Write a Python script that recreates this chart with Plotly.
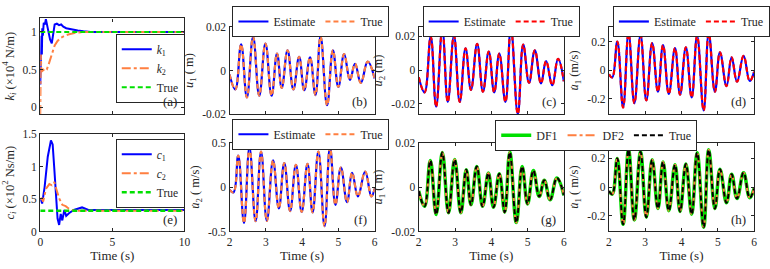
import plotly.graph_objects as go

W, H = 770, 269

# ---------------- data ----------------
time_k1 = [0, 0.02, 0.05, 0.08, 0.11, 0.14, 0.18, 0.24, 0.32, 0.39, 0.48, 0.58, 0.68, 0.8, 0.9, 1.0, 1.15, 1.3, 1.45, 1.6, 1.8, 2.0, 2.3, 2.6, 3.0, 3.5, 10]
k1 = [0.3, 0.75, 0.55, 0.95, 0.7, 1.05, 0.95, 1.12, 1.1, 1.17, 1.08, 0.98, 0.9, 0.85, 0.98, 1.1, 1.11, 1.09, 1.1, 1.07, 1.05, 1.04, 1.03, 1.02, 1.01, 1.0, 1.0]
time_k2 = [0, 0.02, 0.04, 0.07, 0.1, 0.2, 0.3, 0.45, 0.55, 0.7, 0.85, 1.0, 1.2, 1.4, 1.7, 2.0, 2.5, 3.0, 4.0, 10]
k2 = [-0.09, 0.3, 0.7, 0.5, 0.47, 0.5, 0.48, 0.5, 0.55, 0.64, 0.74, 0.82, 0.88, 0.92, 0.95, 0.97, 0.99, 1.0, 1.0, 1.0]
k_true_t = [0, 10]
k_true = [1.0, 1.0]

time_c1 = [0, 0.13, 0.3, 0.52, 0.74, 0.86, 0.97, 1.08, 1.2, 1.31, 1.42, 1.53, 1.67, 1.8, 1.99, 2.33, 2.9, 3.34, 10]
c1 = [0.51, 0.43, 0.68, 1.15, 1.4, 1.34, 0.98, 0.59, 0.2, 0.1, 0.27, 0.17, 0.33, 0.24, 0.28, 0.33, 0.37, 0.33, 0.33]
time_c2 = [0, 0.1, 0.2, 0.4, 0.63, 0.81, 0.97, 1.13, 1.31, 1.53, 1.76, 1.99, 2.33, 3.0, 10]
c2 = [0.5, 0.51, 0.46, 0.66, 0.73, 0.71, 0.76, 0.63, 0.51, 0.41, 0.39, 0.35, 0.32, 0.32, 0.32]
c_true_t = [0, 10]
c_true = [0.32, 0.32]

time_u1 = [2.0, 2.16, 2.32, 2.48, 2.65, 2.82, 2.99, 3.16, 3.31, 3.44, 3.60, 3.76, 3.92, 4.06, 4.22, 4.37, 4.51, 4.69, 4.85, 5.0, 5.16, 5.32, 5.46, 5.62, 5.81, 6.0]
u1 = [-0.0018, -0.0087, 0.012, -0.0124, 0.0155, -0.0116, 0.0124, -0.0116, 0.0078, -0.008, 0.0093, -0.0087, 0.0063, -0.0091, 0.006, -0.0113, 0.0157, -0.016, 0.0093, -0.0076, 0.0075, -0.0043, 0.0031, -0.0057, 0.0041, -0.0037]

time_u2 = [2.0, 2.16, 2.33, 2.48, 2.65, 2.80, 2.97, 3.13, 3.29, 3.44, 3.61, 3.77, 3.93, 4.08, 4.22, 4.39, 4.54, 4.73, 4.88, 5.04, 5.20, 5.37, 5.51, 5.68, 5.84, 6.0]
u2 = [-0.0042, -0.0132, 0.0198, -0.0217, 0.0242, -0.0189, 0.0204, -0.0189, 0.0128, -0.0117, 0.0155, -0.0128, 0.011, -0.0132, 0.0098, -0.0189, 0.0249, -0.026, 0.0151, -0.0075, 0.0117, -0.0079, 0.0053, -0.009, 0.0066, -0.0066]

time_u1d = [2.0, 2.09, 2.23, 2.39, 2.54, 2.70, 2.87, 3.03, 3.19, 3.35, 3.49, 3.65, 3.82, 3.96, 4.12, 4.28, 4.43, 4.61, 4.75, 4.92, 5.06, 5.24, 5.38, 5.53, 5.71, 5.88, 6.0]
u1d = [-0.028, -0.05, 0.2, -0.26, 0.26, -0.23, 0.245, -0.21, 0.19, -0.15, 0.175, -0.165, 0.155, -0.17, 0.16, -0.19, 0.24, -0.28, 0.26, -0.15, 0.125, -0.11, 0.09, -0.08, 0.10, -0.075, -0.01]

time_u2d = [2.0, 2.11, 2.24, 2.40, 2.55, 2.72, 2.87, 3.03, 3.20, 3.36, 3.51, 3.67, 3.83, 3.99, 4.15, 4.29, 4.45, 4.62, 4.77, 4.92, 5.07, 5.24, 5.38, 5.54, 5.74, 5.91, 6.0]
u2d = [-0.03, -0.06, 0.355, -0.405, 0.445, -0.385, 0.40, -0.38, 0.30, -0.24, 0.27, -0.27, 0.25, -0.28, 0.26, -0.285, 0.40, -0.44, 0.45, -0.20, 0.22, -0.17, 0.16, -0.105, 0.175, -0.105, -0.02]

ticks_k = [0, 0.5, 1]
ticks_k_text = ["0", "0.5", "1"]
ticks_c = [0, 0.5, 1, 1.5]
ticks_c_text = ["0", "0.5", "1", "1.5"]
ticks_u = [-0.02, 0, 0.02]
ticks_u_text = ["-0.02", "0", "0.02"]
ticks_ud1 = [-0.2, 0, 0.2]
ticks_ud1_text = ["-0.2", "0", "0.2"]
ticks_ud2 = [-0.5, 0, 0.5]
ticks_ud2_text = ["-0.5", "0", "0.5"]
ticks_t10 = [0, 5, 10]
ticks_t10_text = ["0", "5", "10"]
ticks_t6 = [2, 3, 4, 5, 6]
ticks_t6_text = ["2", "3", "4", "5", "6"]

# ---------------- style ----------------
FONT = "Liberation Serif, Times New Roman, serif"
BLUE = "#0000FF"
ORANGE = "#FF7F40"
RED = "#FF0000"
GREEN = "#00E000"
BLACK = "#000000"
AX = "#262626"
TXT = "#262626"
DASH = "5px,3px"

def px_x(a, b):
    return [a / W, b / W]

def px_y(top, bottom):
    return [1 - bottom / H, 1 - top / H]

fig = go.Figure()

def line(x, y, ax, color, width, dash="solid", name=None, legend=None, show=False, shape="linear"):
    fig.add_trace(go.Scatter(
        x=x, y=y, mode="lines", xaxis="x" + ax, yaxis="y" + ax,
        line=dict(color=color, width=width, dash=dash, shape=shape,
                  smoothing=1.2 if shape == "spline" else None),
        name=name, legend=legend, showlegend=show))

# (a)
line(time_k1, k1, "", BLUE, 2, name="<i>k</i><sub>1</sub>", legend="legend", show=True)
line(time_k2, k2, "", ORANGE, 2, dash="dashdot", name="<i>k</i><sub>2</sub>", legend="legend", show=True)
line(k_true_t, k_true, "", GREEN, 2, dash=DASH, name="True", legend="legend", show=True)
# (b)
line(time_u1, u1, "2", BLUE, 2.2, name="Estimate", legend="legend2", show=True, shape="spline")
line(time_u1, u1, "2", ORANGE, 2.2, dash=DASH, name="True", legend="legend2", show=True, shape="spline")
# (c)
line(time_u2, u2, "3", BLUE, 2.2, name="Estimate", legend="legend3", show=True, shape="spline")
line(time_u2, u2, "3", RED, 2.2, dash=DASH, name="True", legend="legend3", show=True, shape="spline")
# (d)
line(time_u1d, u1d, "4", BLUE, 2.2, name="Estimate", legend="legend4", show=True, shape="spline")
line(time_u1d, u1d, "4", RED, 2.2, dash=DASH, name="True", legend="legend4", show=True, shape="spline")
# (e)
line(time_c1, c1, "5", BLUE, 2, name="<i>c</i><sub>1</sub>", legend="legend5", show=True)
line(time_c2, c2, "5", ORANGE, 2, dash="dashdot", name="<i>c</i><sub>2</sub>", legend="legend5", show=True)
line(c_true_t, c_true, "5", GREEN, 2.5, dash=DASH, name="True", legend="legend5", show=True)
# (f)
line(time_u2d, u2d, "6", BLUE, 2.2, name="Estimate", legend="legend6", show=True, shape="spline")
line(time_u2d, u2d, "6", ORANGE, 2.2, dash=DASH, name="True", legend="legend6", show=True, shape="spline")
# (g)
line(time_u1, u1, "7", GREEN, 3.5, name="DF1", legend="legend7", show=True, shape="spline")
line(time_u1, u1, "7", ORANGE, 2, dash="dashdot", name="DF2", legend="legend7", show=True, shape="spline")
line(time_u1, u1, "7", BLACK, 2, dash=DASH, name="True", legend="legend7", show=True, shape="spline")
# (h)
line(time_u1d, u1d, "8", GREEN, 3.5, shape="spline")
line(time_u1d, u1d, "8", ORANGE, 2, dash="dashdot", shape="spline")
line(time_u1d, u1d, "8", BLACK, 2, dash=DASH, shape="spline")

tickfont = dict(family=FONT, size=11.5, color=TXT)
titlefont = dict(family=FONT, size=12.5, color=TXT)

def xaxis(dom, rng, tv, tt, labels, anchor, title=None):
    d = dict(domain=dom, range=rng, tickvals=tv, ticktext=tt, showticklabels=labels,
             ticks="inside", ticklen=3, tickcolor=AX, mirror="allticks", showline=True,
             linecolor=AX, linewidth=1.2, showgrid=False, zeroline=False, anchor=anchor,
             tickfont=tickfont)
    if title:
        d["title"] = dict(text=title, font=dict(family=FONT, size=13, color=TXT), standoff=2)
    return d

def yaxis(dom, rng, tv, tt, anchor, title):
    return dict(domain=dom, range=rng, tickvals=tv, ticktext=tt, showticklabels=True,
                ticks="inside", ticklen=3, tickcolor=AX, mirror="allticks", showline=True,
                linecolor=AX, linewidth=1.2, showgrid=False, zeroline=False, anchor=anchor,
                tickfont=tickfont,
                title=dict(text=title, font=titlefont, standoff=5))

colA = px_x(38, 185)
colB = px_x(231, 379)
colC = px_x(424, 572)
colD = px_x(618, 766)
rowA = px_y(13, 113)
rowTop = px_y(22, 113)
rowE = px_y(134, 236)
rowBot = px_y(143, 236)

T = "Time (s)"
fig.update_layout(
    xaxis=xaxis(colA, [0, 10], ticks_t10, ticks_t10_text, False, "y"),
    yaxis=yaxis(rowA, [-0.09, 1.18], ticks_k, ticks_k_text, "x",
                "<i>k</i><sub><i>i</i></sub> (×10<sup>4</sup> N/m)"),
    xaxis2=xaxis(colB, [2, 6], ticks_t6, ticks_t6_text, False, "y2"),
    yaxis2=yaxis(rowTop, [-0.02, 0.02], ticks_u, ticks_u_text, "x2", "<i>u</i><sub>1</sub> ( m)"),
    xaxis3=xaxis(colC, [2, 6], ticks_t6, ticks_t6_text, False, "y3"),
    yaxis3=yaxis(rowTop, [-0.026, 0.0255], ticks_u, ticks_u_text, "x3", "<i>u</i><sub>2</sub> (m)"),
    xaxis4=xaxis(colD, [2, 6], ticks_t6, ticks_t6_text, False, "y4"),
    yaxis4=yaxis(rowTop, [-0.305, 0.302], ticks_ud1, ticks_ud1_text, "x4", "<i>u̇</i><sub>1</sub> (m/s)"),
    xaxis5=xaxis(colA, [0, 10], ticks_t10, ticks_t10_text, True, "y5", T),
    yaxis5=yaxis(rowE, [0, 1.5], ticks_c, ticks_c_text, "x5",
                 "<i>c</i><sub><i>i</i></sub> (×10<sup>2</sup> Ns/m)"),
    xaxis6=xaxis(colB, [2, 6], ticks_t6, ticks_t6_text, True, "y6", T),
    yaxis6=yaxis(rowBot, [-0.5, 0.5], ticks_ud2, ticks_ud2_text, "x6", "<i>u̇</i><sub>2</sub> ( m/s)"),
    xaxis7=xaxis(colC, [2, 6], ticks_t6, ticks_t6_text, True, "y7", T),
    yaxis7=yaxis(rowBot, [-0.02, 0.02], ticks_u, ticks_u_text, "x7", "<i>u</i><sub>1</sub> ( m)"),
    xaxis8=xaxis(colD, [2, 6], ticks_t6, ticks_t6_text, True, "y8", T),
    yaxis8=yaxis(rowBot, [-0.31, 0.31], ticks_ud1, ticks_ud1_text, "x8", "<i>u̇</i><sub>1</sub> ( m/s)"),
)

def leg(x, top, orient="h", size=12):
    return dict(x=x / W, y=1 - top / H, xanchor="left", yanchor="top", orientation=orient,
                bgcolor="white", bordercolor=AX, borderwidth=1,
                font=dict(family=FONT, size=size, color=TXT),
                tracegroupgap=0, itemwidth=30)

fig.update_layout(
    legend=leg(115, 29, "v", 11.5),
    legend2=leg(234, 0),
    legend3=leg(428, 0),
    legend4=leg(622, 0),
    legend5=leg(115, 139, "v", 11.5),
    legend6=leg(234, 118),
    legend7=leg(502, 119),
)

labels = ["(a)", "(b)", "(c)", "(d)", "(e)", "(f)", "(g)", "(h)"]
axes_ids = ["", "2", "3", "4", "5", "6", "7", "8"]
for lab, a in zip(labels, axes_ids):
    fig.add_annotation(text=lab, xref=("x" + a + " domain"), yref=("y" + a + " domain"),
                       x=0.96, y=0.03, xanchor="right", yanchor="bottom", showarrow=False,
                       font=dict(family=FONT, size=13, color=TXT))

fig.update_layout(width=W, height=H, margin=dict(l=0, r=0, t=0, b=0),
                  paper_bgcolor="white", plot_bgcolor="white", font=dict(family=FONT))

fig.write_html("out.html", config={"displayModeBar": False},
               post_script="document.body.style.margin='0';document.body.style.padding='0';")
